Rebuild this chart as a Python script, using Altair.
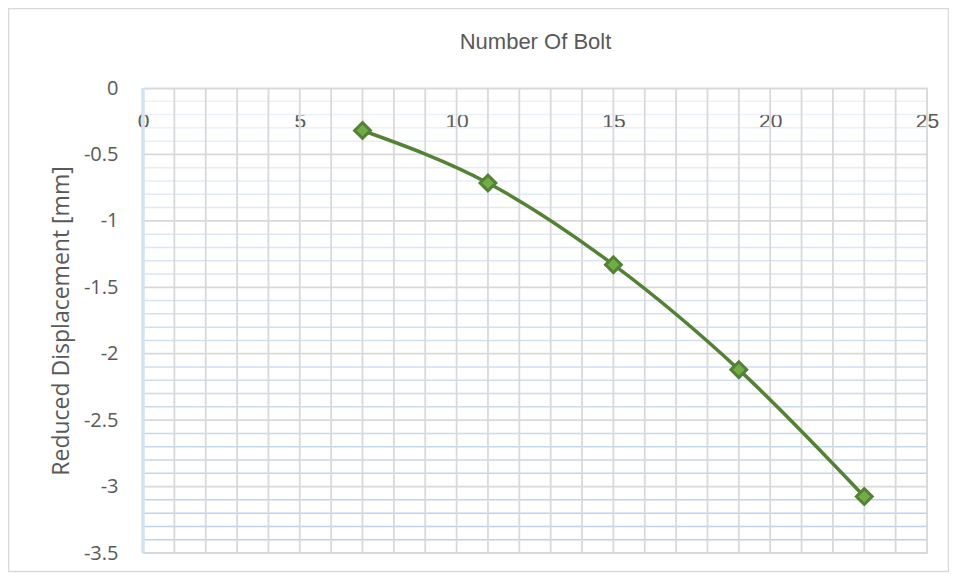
import altair as alt
import pandas as pd

# data
bolts = [7, 11, 15, 19, 23]
displacement = [-0.32, -0.715, -1.33, -2.12, -3.075]

x_ticks = list(range(0, 26))
x_labels = [0, 5, 10, 15, 20, 25]
y_major = [0, -0.5, -1, -1.5, -2, -2.5, -3, -3.5]
y_minor = [round(-0.1 * i, 1) for i in range(1, 35) if i % 5 != 0]

df = pd.DataFrame({"bolts": bolts, "disp": displacement})
df_vx = pd.DataFrame({"gx": x_ticks[1:]})
df_major = pd.DataFrame({"gy": y_major[1:]})
df_minor = pd.DataFrame({"gy": y_minor})

FONT_X = "Liberation Sans"
FONT_Y = "Open Sans"
GREY_TXT = "#595959"
GRID = "#d9d9d9"

xscale = alt.Scale(domain=[0, 25], nice=False, zero=False)
yscale = alt.Scale(domain=[-3.5, 0], nice=False, zero=False)

x_axis = alt.Axis(
    orient="top", values=x_labels, ticks=False, tickSize=0, domain=True,
    domainColor=GRID, domainWidth=2, grid=False,
    labelPadding=-39, labelBaseline="alphabetic", labelFontSize=21,
    labelColor=GREY_TXT, labelFont=FONT_X, labelFlush=False,
    title="Number Of Bolt", titleFont=FONT_X, titleFontSize=22,
    titleFontWeight="normal", titleColor=GREY_TXT,
    titleX=392, titleY=-40, titleAlign="center", titleBaseline="alphabetic",
)
y_axis = alt.Axis(
    orient="left", values=y_major, ticks=False, tickSize=0, domain=False,
    grid=False, labelPadding=25, labelFontSize=20, labelColor=GREY_TXT,
    labelFont=FONT_Y, labelExpr="'' + datum.value", labelBaseline="middle",
    title="Reduced Displacement [mm]", titleFont=FONT_Y, titleFontSize=23,
    titleFontWeight="normal", titleColor=GREY_TXT,
    titleX=-82, titleY=232.5, titleAngle=270, titleAlign="center",
    titleBaseline="middle",
)

minor = alt.Chart(df_minor).mark_rule(strokeWidth=1.5).encode(
    y=alt.Y("gy:Q", scale=yscale, axis=y_axis),
    color=alt.Color("gy:Q", scale=alt.Scale(domain=[0, -3.5], range=["#edf3fa", "#b8d1ea"]), legend=None),
)
left_edge = alt.Chart(df).mark_rule(strokeWidth=2.5, color="#d3e3f3").encode(
    x=alt.datum(0, scale=xscale, axis=x_axis),
    y=alt.datum(0, scale=yscale),
    y2=alt.datum(-3.5),
)
vgrid = alt.Chart(df_vx).mark_rule(strokeWidth=1.8, color=GRID).encode(
    x=alt.X("gx:Q", scale=xscale, axis=x_axis),
)
hgrid = alt.Chart(df_major).mark_rule(strokeWidth=1.8, color=GRID).encode(
    y=alt.Y("gy:Q", scale=yscale, axis=y_axis),
)
line = alt.Chart(df).mark_line(color="#548235", strokeWidth=3.5, interpolate="monotone").encode(
    x=alt.X("bolts:Q", scale=xscale, axis=x_axis),
    y=alt.Y("disp:Q", scale=yscale, axis=y_axis),
)
points = alt.Chart(df).mark_point(
    shape="diamond", size=250, filled=True, fill="#70ad47", stroke="#548235",
    strokeWidth=3, opacity=1,
).encode(
    x=alt.X("bolts:Q", scale=xscale, axis=x_axis),
    y=alt.Y("disp:Q", scale=yscale, axis=y_axis),
)
border = alt.Chart(df.head(1)).mark_rect(fill=None, stroke=GRID, strokeWidth=1.5).encode(
    x=alt.value(-134.5), x2=alt.value(805.5), y=alt.value(-79.5), y2=alt.value(483.5),
)

chart = alt.layer(minor, left_edge, vgrid, hgrid, line, points, border).properties(
    width=784, height=465,
    autosize=alt.AutoSizeParams(type="none"),
    padding={"left": 135, "top": 80, "right": 22, "bottom": 20},
).configure_view(stroke=None).configure(background="white")

chart.save("out.html", embed_options={"renderer": "svg", "actions": False})
